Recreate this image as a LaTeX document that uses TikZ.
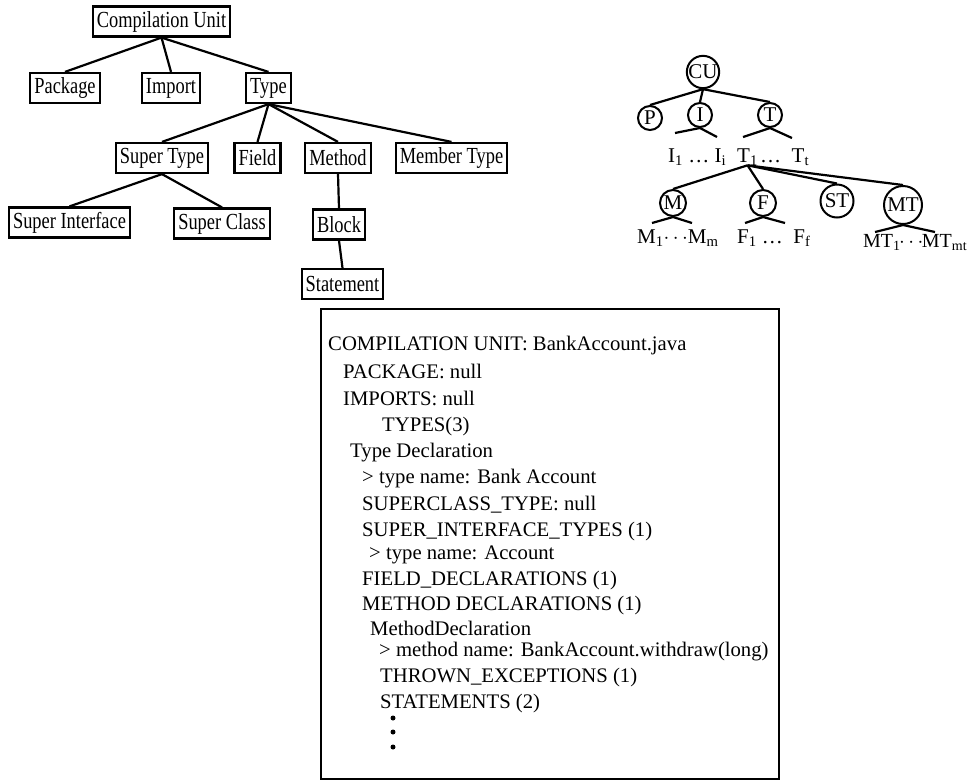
\documentclass[tikz,border=0pt]{standalone}
\usepackage{fontspec}
\setmainfont{Liberation Serif}
\newfontfamily\treefont[FakeStretch=0.8]{Liberation Serif}
\usepackage{tikz}
\usetikzlibrary{positioning}
\tikzset{
  treebox/.style={draw, line width=2.2pt, fill=white, font=\treefont\fontsize{23}{26}\selectfont, inner xsep=4pt, inner ysep=0pt, minimum height=30pt},
  treenode/.style={draw, circle, line width=2pt, inner sep=0pt, font=\fontsize{21}{24}\selectfont},
  branch/.style={line width=2.2pt},
  leaf/.style={anchor=base west, inner sep=0pt, font=\fontsize{21}{24}\selectfont},
  listline/.style={anchor=base west, inner sep=0pt, font=\fontsize{20.7}{24}\selectfont},
  dotmark/.style={circle, fill=black, inner sep=0pt, minimum size=5pt},
}
\begin{document}
\begin{tikzpicture}[x=1pt,y=-1pt]
  \useasboundingbox (0,0) rectangle (972,780);

  % Left tree: element kinds
  \node[treebox] (cu)   at (161.5,21.5) {Compilation Unit};
  \node[treebox] (pkg)  at (65,88)      {Package};
  \node[treebox] (imp)  at (171,88)     {Import};
  \node[treebox] (typ)  at (268.5,88)   {Type};
  \node[treebox] (styp) at (162,158)    {Super Type};
  \node[treebox] (fld)  at (257.5,158)  {Field};
  \node[treebox] (mth)  at (338,158)    {Method};
  \node[treebox] (mtyp) at (451.5,158)  {Member Type};
  \node[treebox] (sint) at (69.5,222.5) {Super Interface};
  \node[treebox] (scls) at (222,223.5)  {Super Class};
  \node[treebox] (blk)  at (339,224.5)  {Block};
  \node[treebox] (stmt) at (342.5,284)  {Statement};

  \draw[branch] (cu.south) -- (pkg.north);
  \draw[branch] (cu.south) -- (imp.north);
  \draw[branch] (cu.south) -- (typ.north);
  \draw[branch] (typ.south) -- (styp.north);
  \draw[branch] (typ.south) -- (fld.north);
  \draw[branch] (typ.south) -- (mth.north);
  \draw[branch] (typ.south) -- (mtyp.north);
  \draw[branch] (styp.south) -- (sint.north);
  \draw[branch] (styp.south) -- (scls.north);
  \draw[branch] (mth.south) -- (blk.north);
  \draw[branch] (blk.south) -- (stmt.north);

  % Right tree: abbreviated
  \node[treenode, minimum size=32pt] (rcu) at (703,72)  {CU};
  \node[treenode, minimum size=24pt] (rp)  at (650,118) {P};
  \node[treenode, minimum size=24pt] (ri)  at (700,115) {I};
  \node[treenode, minimum size=24pt] (rt)  at (770,115) {T};
  \node[treenode, minimum size=26pt] (rm)  at (673,203) {M};
  \node[treenode, minimum size=26pt] (rf)  at (763,203) {F};
  \node[treenode, minimum size=33pt] (rst) at (837,201) {ST};
  \node[treenode, minimum size=38pt] (rmt) at (903,205) {MT};

  \node[leaf] (ileaf)  at (668,162) {I\textsubscript{1} \ldots\ I\textsubscript{i}};
  \node[leaf] (tone)   at (737,162) {T\textsubscript{1}};
  \node[leaf] (tdots)  at (760,162) {\ldots\ \ T\textsubscript{t}};
  \node[leaf] (mleaf)  at (637,243) {M\textsubscript{1}$\cdots$M\textsubscript{m}};
  \node[leaf] (fleaf)  at (737,243) {F\textsubscript{1} \ldots\ \ F\textsubscript{f}};
  \node[leaf, font=\fontsize{20}{24}\selectfont] (mtleaf) at (863,247) {MT\textsubscript{1}\kern-1.5pt$\cdots$\kern-1.5pt MT\textsubscript{mt}};

  \coordinate (ia) at (675,133);
  \coordinate (ib) at (717,137);
  \coordinate (ta) at (743,137);
  \coordinate (tb) at (792,138);
  \coordinate (ma) at (652,223);
  \coordinate (mb) at (692,223);
  \coordinate (fa) at (745,223);
  \coordinate (fb) at (785,223);
  \coordinate (mta) at (875,232);
  \coordinate (mtb) at (935,232);

  \draw[branch] (rcu.south) -- (rp.north);
  \draw[branch] (rcu.south) -- (ri.north);
  \draw[branch] (rcu.south) -- (rt.north);
  \draw[branch] (ri.south) -- (ia);
  \draw[branch] (ri.south) -- (ib);
  \draw[branch] (rt.south) -- (ta);
  \draw[branch] (rt.south) -- (tb);
  \draw[branch] (tone.south) -- (rm.north);
  \draw[branch] (tone.south) -- (rf.north);
  \draw[branch] (tone.south) -- (rst.north);
  \draw[branch] (tone.south) -- (rmt.north);
  \draw[branch] (rm.south) -- (ma);
  \draw[branch] (rm.south) -- (mb);
  \draw[branch] (rf.south) -- (fa);
  \draw[branch] (rf.south) -- (fb);
  \draw[branch] (rmt.south) -- (mta);
  \draw[branch] (rmt.south) -- (mtb);

  % AST dump
  \node[draw, line width=2pt, anchor=north west, minimum width=458pt, minimum height=470pt] (dump) at (320,308) {};
  \node[listline] (l1)  at (328,350) {COMPILATION UNIT: BankAccount.java};
  \node[listline] (l2)  at (343,378) {PACKAGE: null};
  \node[listline] (l3)  at (343,405) {IMPORTS: null};
  \node[listline] (l4)  at (382,431) {TYPES(3)};
  \node[listline] (l5)  at (350,457) {Type Declaration};
  \node[listline] (l6)  at (362,483) {\textgreater\ type name: Bank Account};
  \node[listline] (l7)  at (362,510) {SUPERCLASS\_TYPE: null};
  \node[listline] (l8)  at (362,536) {SUPER\_INTERFACE\_TYPES (1)};
  \node[listline] (l9)  at (369,559) {\textgreater\ type name: Account};
  \node[listline] (l10) at (362,585) {FIELD\_DECLARATIONS (1)};
  \node[listline] (l11) at (362,610) {METHOD DECLARATIONS (1)};
  \node[listline] (l12) at (370,635) {MethodDeclaration};
  \node[listline] (l13) at (379,656) {\textgreater\ method name: BankAccount.withdraw(long)};
  \node[listline] (l14) at (380,682) {THROWN\_EXCEPTIONS (1)};
  \node[listline] (l15) at (380,708) {STATEMENTS (2)};
  \node[dotmark] (dot1) at (393,718) {};
  \node[dotmark] (dot2) at (393,732) {};
  \node[dotmark] (dot3) at (393,747) {};
\end{tikzpicture}
\end{document}
